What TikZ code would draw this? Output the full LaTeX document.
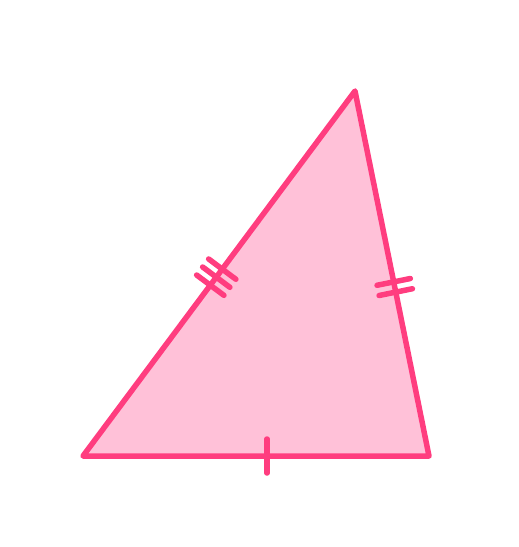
\documentclass[tikz,border=0pt]{standalone}
\usetikzlibrary{calc}
\definecolor{triFill}{RGB}{255,193,216}
\definecolor{triLine}{RGB}{255,61,127}
\begin{document}
\begin{tikzpicture}[x=1pt,y=-1pt,
  side/.style={draw=triLine,line width=5.5pt,line join=round,fill=triFill},
  tick/.style={draw=triLine,line width=5.5pt,line cap=round}]
\useasboundingbox (0,0) rectangle (519,547);
\coordinate (A) at (83,456);
\coordinate (B) at (355,91);
\coordinate (C) at (429,456);
\path[side] (A) -- (B) -- (C) -- cycle;
% left side: three ticks
\foreach \t in {0.468,0.490,0.512}{
  \coordinate (P) at ($(A)!\t!(B)$);
  \draw[tick] ($(P)!17pt!90:(B)$) -- ($(P)!17pt!-90:(B)$);
}
% right side: two ticks
\foreach \t in {0.523,0.551}{
  \coordinate (Q) at ($(B)!\t!(C)$);
  \draw[tick] ($(Q)!17pt!90:(C)$) -- ($(Q)!17pt!-90:(C)$);
}
% bottom: one tick
\coordinate (R) at ($(A)!0.532!(C)$);
\draw[tick] ($(R)!17pt!90:(C)$) -- ($(R)!17pt!-90:(C)$);
\end{tikzpicture}
\end{document}
